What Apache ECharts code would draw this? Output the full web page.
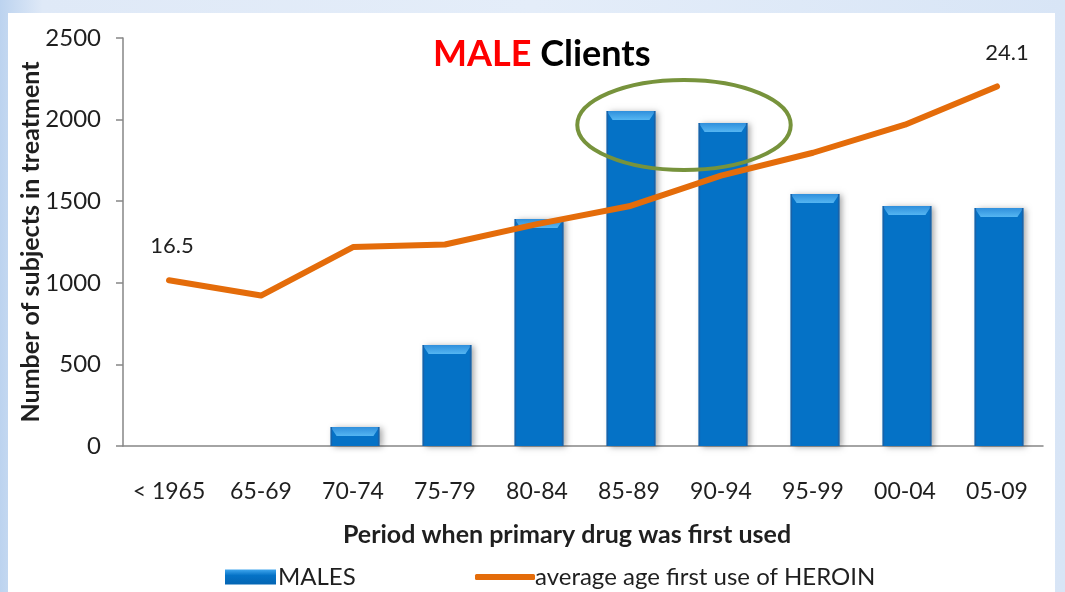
<!DOCTYPE html>
<html>
<head>
<meta charset="utf-8">
<style>
  html, body { margin: 0; padding: 0; }
  body {
    width: 1065px; height: 592px; overflow: hidden; position: relative;
    background: linear-gradient(90deg, #bcd3ef 0%, #dfe9f7 4%, #e4edf9 50%, #d8e5f6 100%);
  }
  #panel { position: absolute; left: 8px; top: 13px; right: 10px; bottom: 0; background: #fff; }
  #chart { position: absolute; left: 0; top: 0; width: 1065px; height: 592px; }
</style>
<script src="https://cdn.jsdelivr.net/npm/echarts@6/dist/echarts.min.js"></script>
</head>
<body>
<div id="panel"></div>
<div id="chart"></div>
<script>
// data
const periods = ["< 1965", "65-69", "70-74", "75-79", "80-84", "85-89", "90-94", "95-99", "00-04", "05-09"];
const males = [0, 0, 116, 619, 1391, 2053, 1979, 1544, 1470, 1458];
const heroinAge = [16.5, 15.9, 17.8, 17.9, 18.7, 19.4, 20.6, 21.5, 22.6, 24.1];
const yTicks = [0, 500, 1000, 1500, 2000, 2500];

const font = "Lato, 'Open Sans', sans-serif";
const txt = "#1f1f1f";

let myChart = echarts.init(document.getElementById("chart"), null, { renderer: "canvas" });

function barItem(params, api) {
  let v = api.value(1);
  if (!v) return null;
  let top = api.coord([api.value(0), v]);
  let base = api.coord([api.value(0), 0]);
  let bw = api.size([1, 0])[0] * 0.53;
  let l = top[0] - bw / 2 + 2, r = l + bw;
  let t = top[1], b = base[1];
  let bev = Math.min(9, (b - t) / 2);
  return {
    type: "group",
    children: [
      {
        type: "rect",
        shape: { x: l, y: t, width: bw, height: b - t },
        style: { fill: "#0572c6", shadowBlur: 6, shadowOffsetX: 3, shadowOffsetY: 1, shadowColor: "rgba(0,0,0,0.35)" }
      },
      {
        type: "polygon",
        shape: { points: [[l, t], [r, t], [r - 6, t + bev], [l + 6, t + bev]] },
        style: {
          fill: new echarts.graphic.LinearGradient(0, 0, 0, 1, [
            { offset: 0, color: "#2f8fdc" },
            { offset: 1, color: "#55b6f2" }
          ])
        }
      },
      {
        type: "rect",
        shape: { x: l, y: t, width: 1.5, height: b - t },
        style: { fill: "#1a62a8" }
      },
      {
        type: "rect",
        shape: { x: r - 1.5, y: t, width: 1.5, height: b - t },
        style: { fill: "#1a62a8" }
      }
    ]
  };
}

let legendText = { fontSize: 24, color: txt, fontFamily: font };

let option = {
  animation: false,
  textStyle: { fontFamily: font },
  title: {
    text: "{r|MALE }{k|Clients}",
    left: 428,
    top: 31,
    textStyle: {
      rich: {
        r: { color: "#ff0000", fontSize: 36, fontWeight: "bold", fontFamily: font },
        k: { color: "#000", fontSize: 36, fontWeight: "bold", fontFamily: font }
      }
    }
  },
  grid: { left: 123, right: 22, top: 38, bottom: 146, containLabel: false },
  legend: [
    {
      left: 220,
      top: 560,
      itemWidth: 51,
      itemHeight: 15,
      textStyle: Object.assign({ padding: [0, 0, 0, -3] }, legendText),
      data: [{ name: "MALES", icon: "rect" }]
    },
    {
      left: 470,
      top: 560,
      itemWidth: 60,
      itemHeight: 6,
      textStyle: Object.assign({ padding: [0, 0, 0, -5] }, legendText),
      data: [{ name: "average age first use of HEROIN", icon: "roundRect" }]
    }
  ],
  xAxis: {
    type: "category",
    data: periods,
    name: "Period when primary drug was first used",
    nameLocation: "middle",
    nameGap: 76,
    nameMoveOverlap: false,
    nameTextStyle: { fontSize: 25, fontWeight: "bold", color: txt, fontFamily: font, padding: [0, 32, 0, 0] },
    axisLine: { lineStyle: { color: "#868686", width: 1.5 } },
    axisTick: { length: 8, lineStyle: { color: "#868686", width: 1.5 } },
    axisLabel: { interval: 0, fontSize: 23, color: txt, margin: 34, fontFamily: font }
  },
  yAxis: [
    {
      type: "value",
      min: 0,
      max: 2500,
      interval: 500,
      name: "Number of subjects in treatment",
      nameLocation: "middle",
      nameGap: 80,
      nameMoveOverlap: false,
      nameTextStyle: { fontSize: 25, fontWeight: "bold", color: txt, fontFamily: font },
      axisLine: { show: true, lineStyle: { color: "#868686", width: 1.5 } },
      axisTick: { show: true, length: 7, lineStyle: { color: "#868686", width: 1.5 } },
      axisLabel: {
        fontSize: 24, color: txt, margin: 22, fontFamily: font,
        formatter: function (v) { return yTicks.indexOf(v) >= 0 ? String(v) : ""; }
      },
      splitLine: { show: false }
    },
    {
      type: "value",
      min: 10,
      max: 26,
      show: false,
      splitLine: { show: false }
    }
  ],
  series: [
    {
      name: "MALES",
      type: "custom",
      renderItem: barItem,
      encode: { x: 0, y: 1 },
      itemStyle: {
        color: new echarts.graphic.LinearGradient(0, 0, 0, 1, [
          { offset: 0, color: "#3fa6ee" },
          { offset: 0.4, color: "#0572c6" },
          { offset: 1, color: "#0465b3" }
        ])
      },
      data: males.map((v, i) => [i, v]),
      z: 2
    },
    {
      name: "average age first use of HEROIN",
      type: "line",
      yAxisIndex: 1,
      data: heroinAge,
      symbol: "none",
      lineStyle: { color: "#e46c0a", width: 6, cap: "round", join: "round" },
      itemStyle: { color: "#e46c0a" },
      z: 3,
      markPoint: {
        symbol: "circle",
        symbolSize: 0,
        data: [
          { coord: [0, heroinAge[0]], value: heroinAge[0], label: { offset: [3, -34] } },
          { coord: [9, heroinAge[9]], value: heroinAge[9], label: { offset: [10, -34] } }
        ],
        label: { show: true, fontSize: 22, color: txt, fontFamily: font, formatter: p => p.value.toFixed(1) }
      }
    }
  ]
};

myChart.setOption(option);

// green ellipse around the two peak bars
let p1 = myChart.convertToPixel({ xAxisIndex: 0, yAxisIndex: 0 }, [5, males[5]]);
let p2 = myChart.convertToPixel({ xAxisIndex: 0, yAxisIndex: 0 }, [6, males[6]]);
let step = p2[0] - p1[0];
myChart.setOption({
  graphic: [
    {
      type: "ellipse",
      shape: { cx: (p1[0] + p2[0]) / 2 + 9, cy: p1[1] + 14, rx: step * 1.16, ry: 45 },
      style: { fill: null, stroke: "#77933c", lineWidth: 4 },
      z: 10
    }
  ]
});
</script>
</body>
</html>
